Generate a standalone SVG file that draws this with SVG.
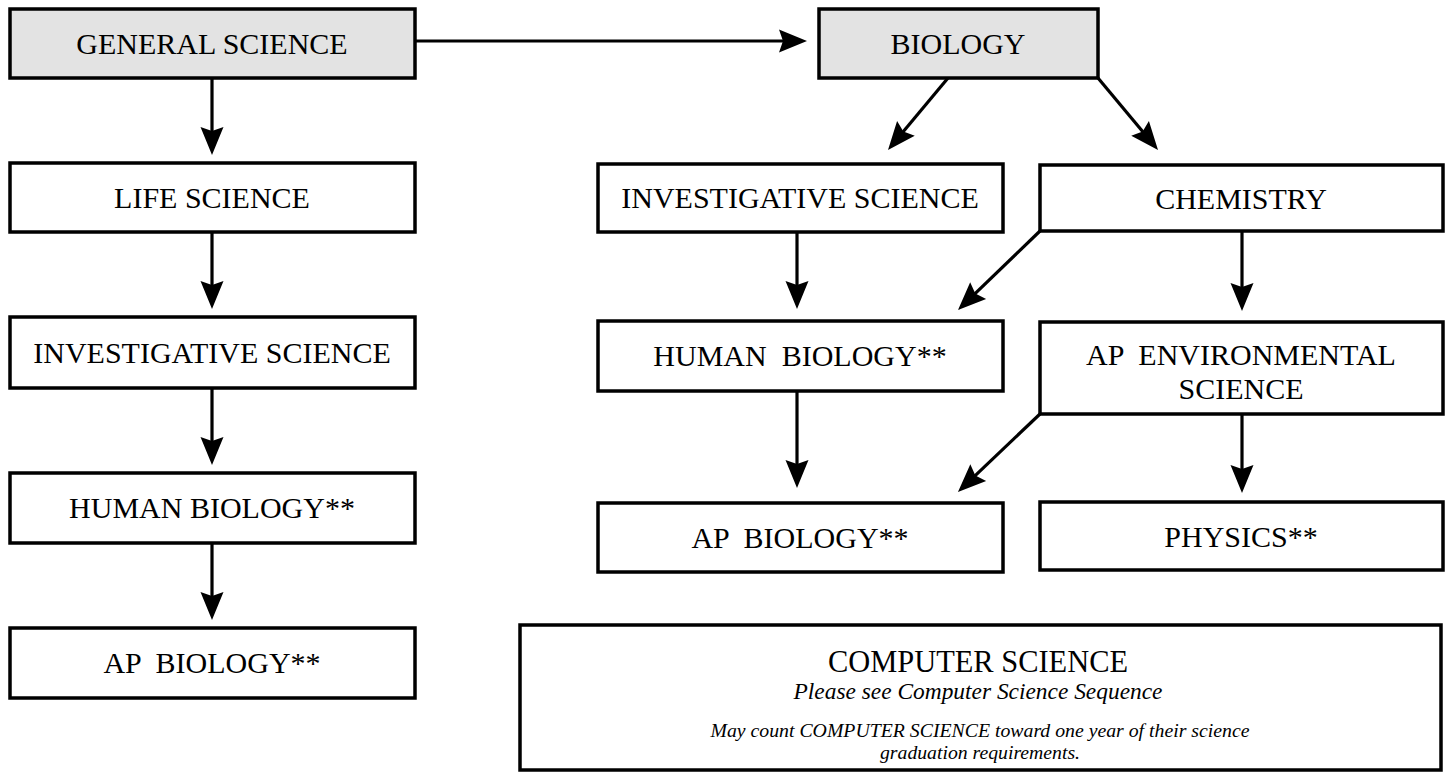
<svg xmlns="http://www.w3.org/2000/svg" width="1447" height="772" viewBox="0 0 1447 772">
<style>
.box{fill:#fff;stroke:#000;stroke-width:3.5}
.gray{fill:#e3e3e3}
.t{font-family:"Liberation Serif","Times New Roman",serif;font-size:30px;fill:#000;text-anchor:middle}
.cs{font-family:"Liberation Serif","Times New Roman",serif;fill:#000;text-anchor:middle}
.i{font-style:italic}
.c line{stroke:#000;stroke-width:3.2;fill:none;marker-end:url(#ah)}
</style>
<defs>
<marker id="ah" markerUnits="userSpaceOnUse" markerWidth="32" markerHeight="26" viewBox="-1 -13 32 26" refX="18" refY="0" orient="auto">
<path d="M0,-11.5 L28,0 L0,11.5 L4,0 Z" fill="#000"/>
</marker>
</defs>
<rect width="1447" height="772" fill="#fff"/>
<g class="c" id="connectors">
<line x1="415" y1="41" x2="797" y2="41"/>
<line x1="212" y1="78" x2="212" y2="145"/>
<line x1="212" y1="232" x2="212" y2="299"/>
<line x1="212" y1="388" x2="212" y2="455"/>
<line x1="212" y1="543" x2="212" y2="610"/>
<line x1="948" y1="78" x2="894.4" y2="142.3"/>
<line x1="1098" y1="78" x2="1151.6" y2="142.3"/>
<line x1="797" y1="232" x2="797" y2="299"/>
<line x1="1040" y1="231" x2="965.2" y2="303.1"/>
<line x1="1242" y1="231" x2="1242" y2="301"/>
<line x1="797" y1="391" x2="797" y2="478"/>
<line x1="1040" y1="414" x2="965.2" y2="485.1"/>
<line x1="1242" y1="414" x2="1242" y2="483"/>
</g>
<g id="n-general-science">
<rect class="box gray" x="10" y="9" width="405" height="69"/>
<text class="t" x="212" y="54">GENERAL SCIENCE</text>
</g>
<g id="n-biology">
<rect class="box gray" x="819" y="9" width="279" height="69"/>
<text class="t" x="958" y="54">BIOLOGY</text>
</g>
<g id="n-life-science">
<rect class="box" x="10" y="163" width="405" height="69"/>
<text class="t" x="212" y="208">LIFE SCIENCE</text>
</g>
<g id="n-inv-left">
<rect class="box" x="10" y="317" width="405" height="71"/>
<text class="t" x="212" y="363">INVESTIGATIVE SCIENCE</text>
</g>
<g id="n-human-left">
<rect class="box" x="10" y="473" width="405" height="70"/>
<text class="t" x="212" y="518">HUMAN BIOLOGY**</text>
</g>
<g id="n-ap-left">
<rect class="box" x="10" y="628" width="405" height="70"/>
<text class="t" x="212" y="673" xml:space="preserve">AP  BIOLOGY**</text>
</g>
<g id="n-inv-right">
<rect class="box" x="598" y="164" width="405" height="68"/>
<text class="t" x="800" y="208">INVESTIGATIVE SCIENCE</text>
</g>
<g id="n-chemistry">
<rect class="box" x="1040" y="165" width="403" height="66"/>
<text class="t" x="1241" y="209">CHEMISTRY</text>
</g>
<g id="n-human-right">
<rect class="box" x="598" y="321" width="405" height="70"/>
<text class="t" x="800" y="366" xml:space="preserve">HUMAN  BIOLOGY**</text>
</g>
<g id="n-ap-env">
<rect class="box" x="1040" y="322" width="403" height="92"/>
<text class="t" x="1241" y="365" xml:space="preserve">AP  ENVIRONMENTAL</text>
<text class="t" x="1241" y="399">SCIENCE</text>
</g>
<g id="n-ap-right">
<rect class="box" x="598" y="503" width="405" height="69"/>
<text class="t" x="800" y="548" xml:space="preserve">AP  BIOLOGY**</text>
</g>
<g id="n-physics">
<rect class="box" x="1040" y="502" width="403" height="68"/>
<text class="t" x="1241" y="547">PHYSICS**</text>
</g>
<g id="n-computer-science">
<rect class="box" x="520" y="625" width="921" height="145"/>
<text class="cs" x="978" y="672" font-size="31" textLength="300" lengthAdjust="spacingAndGlyphs">COMPUTER SCIENCE</text>
<text class="cs i" x="978" y="699" font-size="23" textLength="369" lengthAdjust="spacingAndGlyphs">Please see Computer Science Sequence</text>
<text class="cs i" x="980" y="737" font-size="18" textLength="539" lengthAdjust="spacingAndGlyphs">May count COMPUTER SCIENCE toward one year of their science</text>
<text class="cs i" x="980" y="759" font-size="18" textLength="200" lengthAdjust="spacingAndGlyphs">graduation requirements.</text>
</g>
</svg>
